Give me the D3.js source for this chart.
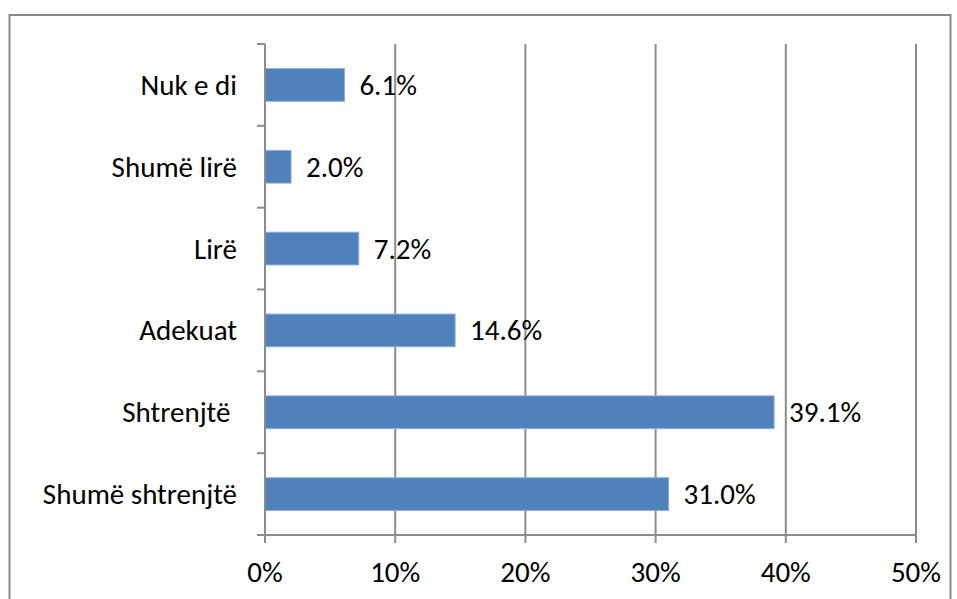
<!DOCTYPE html>
<html>
<head>
<meta charset="utf-8">
<script src="https://cdn.jsdelivr.net/npm/d3@7"></script>
<style>
  body { margin: 0; background: #fff; }
  text { font-family: Carlito, Lato, "Open Sans", sans-serif; fill: #000; font-size: 29px; }
</style>
</head>
<body>
<svg class="chart"></svg>
<script>
// Chart data
var categories = ["Nuk e di", "Shumë lirë", "Lirë", "Adekuat", "Shtrenjtë ", "Shumë shtrenjtë"];
var values = [6.1, 2.0, 7.2, 14.6, 39.1, 31.0];
var tickValues = [0, 10, 20, 30, 40, 50];

var width = 957, height = 599;
var margin = {left: 265, right: 41, top: 44, bottom: 64};

var svg = d3.select(".chart")
  .attr("width", width)
  .attr("height", height);

// outer chart border
svg.append("rect")
  .attr("x", 9.5).attr("y", 15)
  .attr("width", 941).attr("height", 620)
  .attr("fill", "none")
  .attr("stroke", "#898989")
  .attr("stroke-width", 2);

var x = d3.scaleLinear()
  .domain([0, 50])
  .range([margin.left, width - margin.right]);

var y = d3.scaleBand()
  .domain(categories)
  .range([margin.top, height - margin.bottom])
  .paddingInner(0.6)
  .paddingOuter(0.3);

var plotBottom = height - margin.bottom;

// vertical gridlines (with small tick below axis)
svg.selectAll(".grid")
  .data(tickValues.slice(1))
  .enter()
  .append("line")
  .attr("x1", function (d) { return x(d); })
  .attr("x2", function (d) { return x(d); })
  .attr("y1", margin.top)
  .attr("y2", plotBottom + 8)
  .attr("stroke", "#8c8c8c")
  .attr("stroke-width", 2);

// bars
svg.selectAll(".bar")
  .data(values)
  .enter()
  .append("rect")
  .attr("x", x(0))
  .attr("y", function (d, i) { return y(categories[i]); })
  .attr("width", function (d) { return x(d) - x(0); })
  .attr("height", y.bandwidth())
  .attr("fill", "#4f81bd")
  .attr("stroke", "#8eaedb")
  .attr("stroke-width", 1);

// value labels
svg.selectAll(".val")
  .data(values)
  .enter()
  .append("text")
  .attr("x", function (d) { return x(d) + 15; })
  .attr("y", function (d, i) { return y(categories[i]) + y.bandwidth() / 2 + 10; })
  .text(function (d) { return d.toFixed(1) + "%"; });

// y axis line and ticks at category boundaries
var boundaries = d3.range(categories.length + 1).map(function (i) { return margin.top + i * (plotBottom - margin.top) / categories.length; });
svg.append("line")
  .attr("x1", x(0)).attr("x2", x(0))
  .attr("y1", margin.top).attr("y2", plotBottom + 8)
  .attr("stroke", "#8c8c8c").attr("stroke-width", 2);
svg.selectAll(".ytick")
  .data(boundaries)
  .enter()
  .append("line")
  .attr("x1", x(0) - 8).attr("x2", x(0))
  .attr("y1", function (d) { return d; })
  .attr("y2", function (d) { return d; })
  .attr("stroke", "#8c8c8c").attr("stroke-width", 2);

// x axis line
svg.append("line")
  .attr("x1", x(0) - 8).attr("x2", x(50))
  .attr("y1", plotBottom).attr("y2", plotBottom)
  .attr("stroke", "#8c8c8c").attr("stroke-width", 2);

// category labels
svg.selectAll(".cat")
  .data(categories)
  .enter()
  .append("text")
  .attr("x", x(0) - 28)
  .attr("y", function (d) { return y(d) + y.bandwidth() / 2 + 10; })
  .attr("text-anchor", "end")
  .style("white-space", "pre")
  .text(function (d) { return d; });

// x tick labels
svg.selectAll(".xlab")
  .data(tickValues)
  .enter()
  .append("text")
  .attr("x", function (d) { return x(d); })
  .attr("y", plotBottom + 47)
  .attr("text-anchor", "middle")
  .text(function (d) { return d + "%"; });
</script>
</body>
</html>
